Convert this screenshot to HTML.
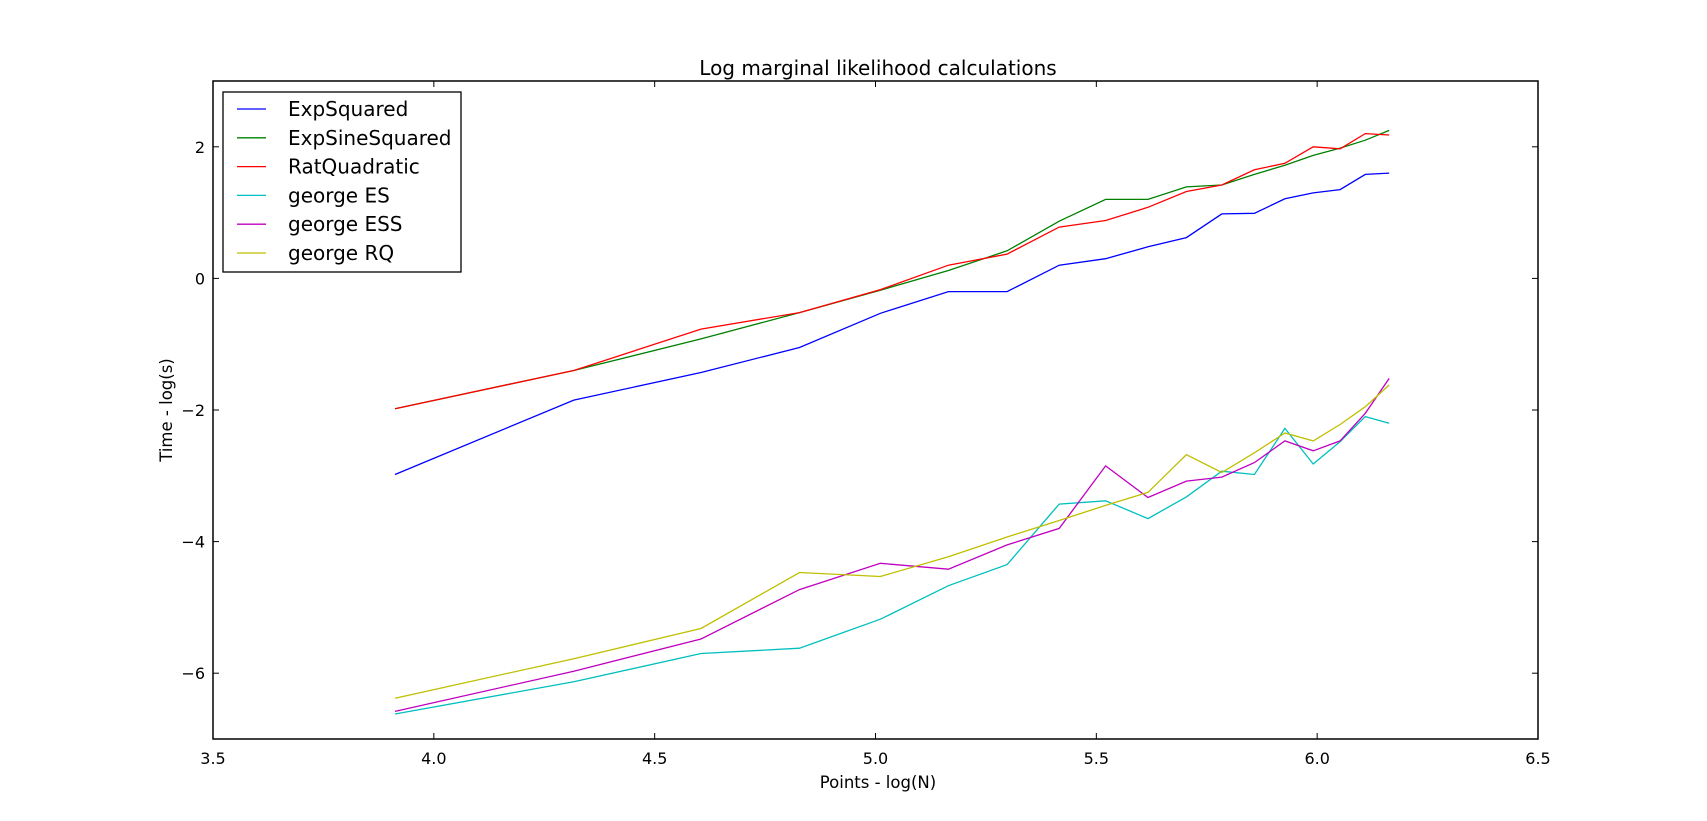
<!DOCTYPE html>
<html><head><meta charset="utf-8"><style>
html,body{margin:0;padding:0;background:#fff;}
svg{display:block;font-family:"DejaVu Sans","Liberation Sans",sans-serif;}
</style></head><body>
<svg id="chart" width="1707" height="821">
<rect width="1707" height="821" fill="#fff"/>
<text x="878" y="75" font-size="20" text-anchor="middle">Log marginal likelihood calculations</text>
<text x="878" y="788" font-size="16.5" text-anchor="middle">Points - log(N)</text>
<text transform="translate(172,410) rotate(-90)" font-size="16.5" text-anchor="middle">Time - log(s)</text>
<g id="ticks"></g>
<g id="series"></g>
<rect x="213" y="81" width="1325" height="658" fill="none" stroke="#000" stroke-width="1.5"/>
<g id="legend"></g>
</svg>
<script>
const xs = [3.912,4.317,4.605,4.828,5.011,5.165,5.298,5.416,5.521,5.617,5.704,5.784,5.858,5.927,5.991,6.052,6.109,6.163];
const expSquared = [-2.98,-1.85,-1.43,-1.05,-0.53,-0.2,-0.2,0.2,0.3,0.48,0.62,0.98,0.99,1.21,1.3,1.35,1.58,1.6];
const expSineSquared = [-1.98,-1.4,-0.92,-0.52,-0.18,0.12,0.42,0.87,1.2,1.2,1.39,1.42,1.58,1.72,1.87,1.98,2.1,2.25];
const ratQuadratic = [-1.98,-1.4,-0.77,-0.52,-0.17,0.2,0.37,0.78,0.88,1.08,1.32,1.42,1.65,1.75,2.0,1.97,2.2,2.18];
const georgeES = [-6.62,-6.13,-5.7,-5.62,-5.18,-4.67,-4.35,-3.43,-3.38,-3.65,-3.32,-2.93,-2.98,-2.28,-2.82,-2.48,-2.1,-2.2];
const georgeESS = [-6.58,-5.97,-5.48,-4.73,-4.33,-4.42,-4.05,-3.8,-2.85,-3.33,-3.08,-3.02,-2.8,-2.47,-2.62,-2.47,-2.05,-1.52];
const georgeRQ = [-6.38,-5.78,-5.32,-4.47,-4.53,-4.23,-3.93,-3.68,-3.45,-3.25,-2.68,-2.95,-2.65,-2.35,-2.47,-2.22,-1.95,-1.62];
const seriesNames = ["ExpSquared","ExpSineSquared","RatQuadratic","george ES","george ESS","george RQ"];
const seriesColors = ["#0000ff","#008000","#ff0000","#00bfbf","#bf00bf","#bfbf00"];
const xTicks = [3.5,4.0,4.5,5.0,5.5,6.0,6.5];
const xTickLabels = ["3.5","4.0","4.5","5.0","5.5","6.0","6.5"];
const yTicks = [2,0,-2,-4,-6];
const yTickLabels = ["2","0","\u22122","\u22124","\u22126"];

const NS="http://www.w3.org/2000/svg";
const L=213,R=1538,T=81,B=739;
const xMin=3.5,xMax=6.5,yMin=-7,yMax=3;
function sx(v){return L+(v-xMin)/(xMax-xMin)*(R-L);}
function sy(v){return B-(v-yMin)/(yMax-yMin)*(B-T);}
function mk(tag,attrs,parent){const e=document.createElementNS(NS,tag);for(const k in attrs)e.setAttribute(k,attrs[k]);parent.appendChild(e);return e;}

const tg=document.getElementById('ticks');
xTicks.forEach((v,i)=>{
  const x=sx(v);
  const t1=mk('line',{x1:x,x2:x,y1:B,y2:B-6,stroke:'#000'},tg);
  
  
  const t2=mk('line',{x1:x,x2:x,y1:T,y2:T+6,stroke:'#000'},tg);
  
  
  const lb=mk('text',{x:x,y:B+25,'font-size':16,'text-anchor':'middle'},tg);
  lb.textContent=xTickLabels[i];
  
  
});
yTicks.forEach((v,i)=>{
  const y=sy(v);
  const t1=mk('line',{x1:L,x2:L+6,y1:y,y2:y,stroke:'#000'},tg);
  
  
  const t2=mk('line',{x1:R,x2:R-6,y1:y,y2:y,stroke:'#000'},tg);
  
  
  const lb=mk('text',{x:L-8,y:y+6,'font-size':16,'text-anchor':'end'},tg);
  lb.textContent=yTickLabels[i];
  
  
});

const allSeries=[expSquared,expSineSquared,ratQuadratic,georgeES,georgeESS,georgeRQ];
const sg=document.getElementById('series');
allSeries.forEach((ys,i)=>{
  const pts=xs.map((x,j)=>sx(x).toFixed(1)+','+sy(ys[j]).toFixed(1)).join(' ');
  const p=mk('polyline',{points:pts,fill:'none',stroke:seriesColors[i],'stroke-width':1.3},sg);
  
  
});

const lg=document.getElementById('legend');
const box=mk('rect',{x:223,y:92,width:238,height:180,fill:'#fff',stroke:'#000','stroke-width':1.3},lg);


seriesNames.forEach((n,i)=>{
  const y=109+i*28.8;
  const ln=mk('line',{x1:237,x2:266,y1:y,y2:y,stroke:seriesColors[i],'stroke-width':1.3},lg);
  
  
  const t=mk('text',{x:288,y:y+7,'font-size':20},lg);
  t.textContent=n;
  
  
});
</script>
</body></html>
